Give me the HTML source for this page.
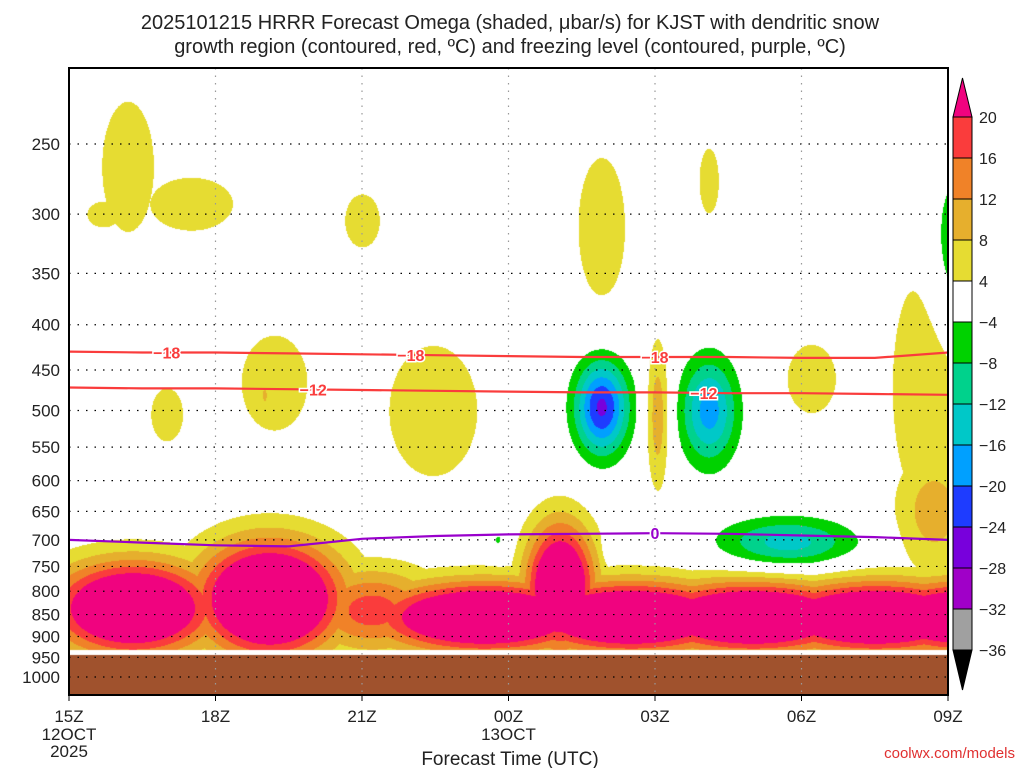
<!DOCTYPE html>
<html><head><meta charset="utf-8">
<style>
html,body{margin:0;padding:0;background:#fff;}
#wrap{position:relative;width:1024px;height:768px;overflow:hidden;font-family:"Liberation Sans",sans-serif;}
canvas{position:absolute;left:0;top:0;}
svg{position:absolute;left:0;top:0;}
</style></head>
<body>
<div id="wrap">
<canvas id="cv" width="1024" height="768"></canvas>
<svg id="sv" width="1024" height="768"></svg>
</div>
<script>
// ---- data ----
const pressureTicks = [250,300,350,400,450,500,550,600,650,700,750,800,850,900,950,1000];
const timeTickHours = [0,3,6,9,12,15,18];
const timeTickLabels = ["15Z","18Z","21Z","00Z","03Z","06Z","09Z"];
const colorLevels = [-36,-32,-28,-24,-20,-16,-12,-8,-4,4,8,12,16,20];
const levelColors = ["#000000","#a0a0a0","#a000c8","#7800dc","#1e3cff","#00a0ff","#00c8c8","#00d28c","#00d200","#ffffff","#e6dc32","#e6af2d","#f08228","#fa3c3c","#f0037f"];
// omega blobs (hour from 15Z, pressure hPa, amplitude ubar/s, hour-width, log-p width)
const blobHour = [1.3,4.1,6.2,8.5,11.5,14.0,16.5,18.5,10.05,17.7,17.6, 10.9,13.1,14.7,18.1,8.8,11.0, 12.05,1.2,2.5,6.0,2.0,4.2,4.0,7.45,10.9,13.1,15.2,0.7];
const blobPres = [835,815,840,855,855,855,855,855,790,650,470, 495,500,705,330,700,705, 505,265,292,305,505,465,480,500,310,275,460,300];
const blobAmp  = [35,38,18,35,35,35,35,35,34,10,7, -25,-18,-14,-9,-5,-5, 11,7,7,6.5,6.5,7.5,9,7,7,6.5,6.5,5];
const blobSH   = [1.2,1.05,1.0,1.6,1.6,1.6,1.6,1.6,0.5,0.6,0.7, 0.38,0.4,0.95,0.35,0.16,0.06, 0.17,0.5,0.8,0.36,0.33,0.6,0.08,0.85,0.45,0.2,0.5,0.5];
const blobSP   = [0.086,0.105,0.08,0.065,0.065,0.065,0.065,0.065,0.115,0.12,0.3, 0.085,0.095,0.045,0.16,0.03,0.03, 0.14,0.16,0.065,0.07,0.07,0.11,0.03,0.16,0.17,0.085,0.09,0.05];
// contour lines
const lineHours = [0,1.5,3,4.5,6,7.5,9,10.5,12,13.5,15,16.5,18];
const dgz18 = [429,430,430,431,432,433,434,435,435,435,436,436,430];
const dgz12 = [471,472,472,473,474,475,476,477,477,478,478,479,480];
const frz0  = [700,705,710,712,698,693,690,689,688,689,692,695,700];

// ---- scales ----
const X0=69,X1=948,Y0=68,Y1=695;
const LNP250=Math.log(250), PXLN=384.5;
function xs(h){return X0+(h/18)*(X1-X0);}
function ys(p){return 144+(Math.log(p)-LNP250)*PXLN;}
function pAt(y){return Math.exp(LNP250+(y-144)/PXLN);}
function hAt(x){return (x-X0)/(X1-X0)*18;}

// ---- shading ----
const cv=document.getElementById('cv'),ctx=cv.getContext('2d');
const img=ctx.createImageData(X1-X0,Y1-Y0);
const rgb=levelColors.map(c=>[parseInt(c.substr(1,2),16),parseInt(c.substr(3,2),16),parseInt(c.substr(5,2),16)]);
const lp0=blobPres.map(p=>Math.log(p));
for(let j=0;j<Y1-Y0;j++){
  const y=Y0+j,p=pAt(y),lp=Math.log(p);
  for(let i=0;i<X1-X0;i++){
    const h=hAt(X0+i);
    let vp=0,vn=0;
    for(let k=0;k<blobHour.length;k++){
      const dh=(h-blobHour[k])/blobSH[k], dp=(lp-lp0[k])/blobSP[k];
      const e=dh*dh+dp*dp; if(e<30){const c=blobAmp[k]*Math.exp(-0.5*e); if(c>0){if(c>vp)vp=c;} else vn+=c;}
    }
    const v=vp+vn;
    let c=[255,255,255];
    if(p>942) c=[160,82,45];
    else if(p<=932){
      let idx=0; while(idx<colorLevels.length && v>=colorLevels[idx]) idx++;
      c=rgb[idx];
    }
    const o=(j*(X1-X0)+i)*4;
    img.data[o]=c[0];img.data[o+1]=c[1];img.data[o+2]=c[2];img.data[o+3]=255;
  }
}
ctx.putImageData(img,X0,Y0);

// ---- svg ----
const NS="http://www.w3.org/2000/svg",sv=document.getElementById('sv');
function el(t,a,parent){const e=document.createElementNS(NS,t);for(const k in a)e.setAttribute(k,a[k]);(parent||sv).appendChild(e);return e;}
function txt(s,a){const e=el('text',a);e.textContent=s;return e;}
pressureTicks.forEach(p=>{
  const g=el('line',{x1:X0,x2:X1,y1:ys(p),y2:ys(p),stroke:'#000','stroke-width':1.2,'stroke-dasharray':'1.5 7'});
  
  
  const t=txt(String(p),{x:60,y:ys(p)+6,'text-anchor':'end','font-size':17,fill:'#222'});
  
  
});
timeTickHours.forEach((h,i)=>{
  if(i>0&&i<6){const g=el('line',{x1:xs(h),x2:xs(h),y1:Y0,y2:Y1,stroke:'#999','stroke-width':1.2,'stroke-dasharray':'1.5 6'});
  
  }
  const tk=el('line',{x1:xs(h),x2:xs(h),y1:Y1,y2:Y1+6,stroke:'#000'});
  
  
  const t=txt(timeTickLabels[i],{x:xs(h),y:722,'text-anchor':'middle','font-size':17,fill:'#222'});
  
  
});
[["12OCT",xs(0),740],["2025",xs(0),757],["13OCT",xs(9),740]].forEach(d=>{
  const t=txt(d[0],{x:d[1],y:d[2],'text-anchor':'middle','font-size':17,fill:'#222'});
  
  
});
function contour(vals,color,label,labelHours,name){
  const d=vals.map((p,i)=>(i?'L':'M')+xs(lineHours[i]).toFixed(1)+' '+ys(p).toFixed(1)).join(' ');
  const l=el('path',{d:d,fill:'none',stroke:color,'stroke-width':2.2});
  
  
  labelHours.forEach(h=>{
    let k=0; while(k<lineHours.length-2&&lineHours[k+1]<h)k++;
    const f=(h-lineHours[k])/(lineHours[k+1]-lineHours[k]);
    const p=vals[k]+(vals[k+1]-vals[k])*f;
    const t=txt(label,{x:xs(h),y:ys(p)+6,'text-anchor':'middle','font-size':16,'font-weight':'bold',fill:color,stroke:'#fff','stroke-width':3,'paint-order':'stroke'});
    
    
  });
}
contour(dgz18,'#fa3c3c','−18',[2,7,12],'dgz-minus18-contour');
contour(dgz12,'#fa3c3c','−12',[5,13],'dgz-minus12-contour');
contour(frz0,'#9900cc','0',[12],'freezing-level-contour');
const fr=el('rect',{x:X0,y:Y0,width:X1-X0,height:Y1-Y0,fill:'none',stroke:'#000','stroke-width':2});


const CBX=953,CBW=19,cbTop=117,cbStep=41;
const cb=el('g',{});


for(let i=0;i<13;i++){
  const c=levelColors[13-i];
  const r=el('rect',{x:CBX,y:cbTop+i*cbStep,width:CBW,height:cbStep,fill:c,stroke:'#000','stroke-width':1},cb);
  
  
}
const up=el('polygon',{points:`${CBX},${cbTop} ${CBX+CBW},${cbTop} ${CBX+CBW/2},${78}`,fill:levelColors[14],stroke:'#000'},cb);


const dn=el('polygon',{points:`${CBX},${cbTop+13*cbStep} ${CBX+CBW},${cbTop+13*cbStep} ${CBX+CBW/2},${690}`,fill:'#000',stroke:'#000'},cb);


for(let i=0;i<14;i++){
  const v=colorLevels[13-i];
  const t=txt(v<0?'−'+(-v):String(v),{x:979,y:cbTop+i*cbStep+6,'font-size':16,fill:'#222'});
  
  
}
const t1=txt('2025101215 HRRR Forecast Omega (shaded, \u03bcbar/s) for KJST with dendritic snow',{x:510,y:29,'text-anchor':'middle','font-size':20,fill:'#222'});


const t2=txt('growth region (contoured, red, \u00baC) and freezing level (contoured, purple, \u00baC)',{x:510,y:53,'text-anchor':'middle','font-size':20,fill:'#222'});


const xt=txt('Forecast Time (UTC)',{x:510,y:765,'text-anchor':'middle','font-size':19,fill:'#222'});


const cr=txt('coolwx.com/models',{x:1015,y:758,'text-anchor':'end','font-size':15,fill:'#e03030'});


</script>
</body></html>
